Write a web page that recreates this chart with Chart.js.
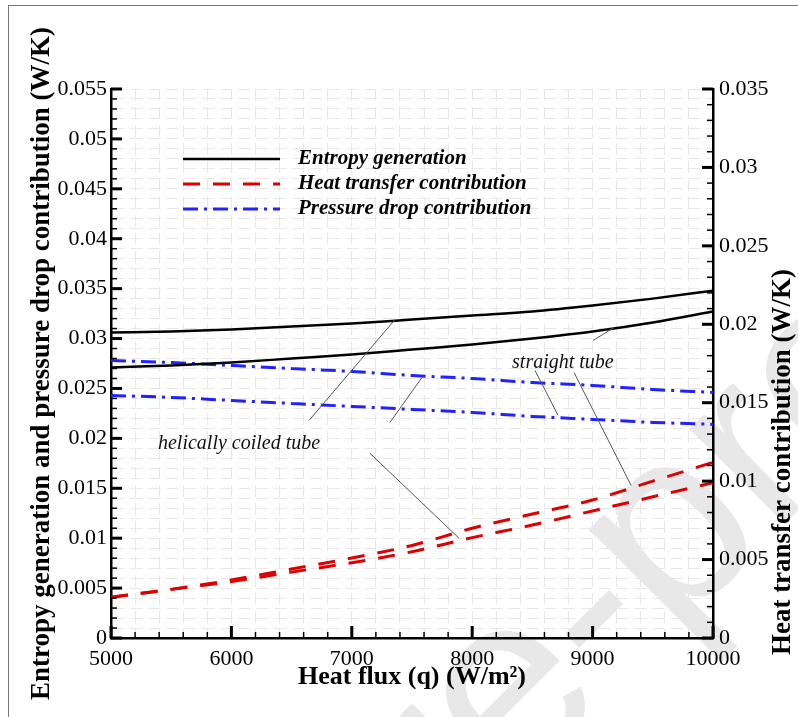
<!DOCTYPE html>
<html>
<head>
<meta charset="utf-8">
<script src="https://cdn.jsdelivr.net/npm/chart.js@4.4.1/dist/chart.umd.min.js"></script>
<style>
  html, body { margin: 0; padding: 0; background: #fff; }
  #wrap { position: relative; width: 798px; height: 717px; overflow: hidden; }
  #frame { position: absolute; left: 8px; top: 5px; width: 900px; height: 900px;
           border-left: 1px solid #777; border-top: 1px solid #777; }
  canvas { position: absolute; left: 0; top: 0; }
</style>
</head>
<body>
<div id="wrap">
  <div id="frame"></div>
  <canvas id="chart" width="798" height="717"></canvas>
</div>
<script>
// heat flux q (W/m2)
const heatFlux = [5000, 5500, 6000, 6500, 7000, 7500, 8000, 8500, 9000, 9500, 10000];

// entropy generation (left axis, W/K)
const entropyHelical  = [0.0306, 0.0307, 0.0309, 0.0312, 0.0315, 0.0319, 0.0323, 0.0327, 0.0333, 0.0340, 0.0348];
const entropyStraight = [0.0271, 0.0273, 0.0276, 0.0280, 0.0284, 0.0289, 0.0294, 0.0300, 0.0307, 0.0316, 0.0327];

// heat transfer contribution (right axis, W/K)
const heatHelical  = [0.0026, 0.0031, 0.0036, 0.0042, 0.0048, 0.0055, 0.0064, 0.0072, 0.0081, 0.0090, 0.0099];
const heatStraight = [0.0026, 0.0031, 0.0037, 0.0044, 0.0051, 0.0059, 0.0070, 0.0079, 0.0088, 0.0100, 0.0112];

// pressure drop contribution (left axis, W/K)
const pressureHelical  = [0.0278, 0.0276, 0.0273, 0.0270, 0.0267, 0.0263, 0.0260, 0.0256, 0.0253, 0.0249, 0.0246];
const pressureStraight = [0.0243, 0.0241, 0.0238, 0.0235, 0.0232, 0.0229, 0.0226, 0.0222, 0.0219, 0.0216, 0.0214];

const legendLabels = ['Entropy generation', 'Heat transfer contribution', 'Pressure drop contribution'];

// callouts, in data units (q, left-axis value)
const notes = [
  { text: 'helically coiled tube', q: 5390, v: 0.0195 },
  { text: 'straight tube', q: 8331, v: 0.0276 }
];
const leaders = [
  [6645, 0.0218, 7359, 0.0319],
  [7317, 0.0216, 7583, 0.0261],
  [7151, 0.0185, 7890, 0.0100],
  [9003, 0.0298, 9178, 0.0311],
  [8522, 0.0268, 8713, 0.0223],
  [8846, 0.0266, 9319, 0.0153]
];

const SERIF = '"Liberation Serif", "Times New Roman", serif';
const BLACK = '#000000';
const RED = '#dd0000';
const BLUE = '#2222ff';

const pts = arr => heatFlux.map((q, i) => ({ x: q, y: arr[i] }));

const lineStyle = (color, width, dash) => ({
    borderColor: color,
    backgroundColor: color,
    borderWidth: width,
    borderDash: dash,
    pointRadius: 0,
    fill: false,
    cubicInterpolationMode: 'monotone'
});

const fmt = v => String(+v.toFixed(3));

const watermark = {
    id: 'watermark',
    beforeDraw(chart) {
        const ctx = chart.ctx;
        const size = 255;
        ctx.save();
        ctx.font = `${size}px "Liberation Sans", sans-serif`;
        const pre = ctx.measureText('Journal Pr').width;
        const ew = ctx.measureText('e').width;
        ctx.translate(515, 700);
        ctx.rotate(-Math.PI / 4);
        ctx.fillStyle = 'rgba(0, 0, 0, 0.09)';
        ctx.textBaseline = 'alphabetic';
        ctx.fillText('Journal Pre-proof', -(pre + ew / 2), 0.26 * size);
        ctx.restore();
    }
};

const innerTicks = {
    id: 'innerTicks',
    afterDatasetsDraw(chart) {
        const ctx = chart.ctx;
        const { x, y, y2 } = chart.scales;
        ctx.save();
        ctx.strokeStyle = BLACK;
        x.ticks.forEach(t => {
            const major = Math.round(t.value) % 1000 === 0;
            const px = x.getPixelForValue(t.value);
            ctx.lineWidth = major ? 3 : 1.5;
            ctx.beginPath();
            ctx.moveTo(px, x.top);
            ctx.lineTo(px, x.top - (major ? 12 : 6));
            ctx.stroke();
        });
        [[y, 1], [y2, -1]].forEach(([s, dir]) => {
            const edge = dir > 0 ? s.right : s.left;
            s.ticks.forEach(t => {
                const major = Math.round(t.value * 1000) % 5 === 0;
                const py = s.getPixelForValue(t.value);
                ctx.lineWidth = major ? 3 : 1.5;
                ctx.beginPath();
                ctx.moveTo(edge, py);
                ctx.lineTo(edge + dir * (major ? 11 : 6), py);
                ctx.stroke();
            });
        });
        ctx.restore();
    }
};

const decorations = {
    id: 'decorations',
    afterDatasetsDraw(chart) {
        const ctx = chart.ctx;
        const { x, y } = chart.scales;
        const area = chart.chartArea;
        ctx.save();

        // leader lines and callout text
        ctx.strokeStyle = '#555';
        ctx.lineWidth = 1;
        leaders.forEach(([q1, v1, q2, v2]) => {
            ctx.beginPath();
            ctx.moveTo(x.getPixelForValue(q1), y.getPixelForValue(v1));
            ctx.lineTo(x.getPixelForValue(q2), y.getPixelForValue(v2));
            ctx.stroke();
        });
        ctx.fillStyle = '#111';
        ctx.font = `italic 20px ${SERIF}`;
        ctx.textAlign = 'left';
        ctx.textBaseline = 'middle';
        notes.forEach(n => ctx.fillText(n.text, x.getPixelForValue(n.q), y.getPixelForValue(n.v)));

        // legend
        const ds = chart.data.datasets;
        [0, 2, 4].forEach((di, i) => {
            const d = ds[di];
            const ly = area.top + 70 + i * 25;
            ctx.strokeStyle = d.borderColor;
            ctx.lineWidth = d.borderWidth;
            ctx.setLineDash(d.borderDash || []);
            ctx.beginPath();
            ctx.moveTo(area.left + 72, ly);
            ctx.lineTo(area.left + 169, ly);
            ctx.stroke();
            ctx.setLineDash([]);
            ctx.fillStyle = BLACK;
            ctx.font = `bold italic 21px ${SERIF}`;
            ctx.fillText(legendLabels[i], area.left + 187, ly);
        });

        // y axis titles
        ctx.font = `bold 27px ${SERIF}`;
        ctx.textAlign = 'center';
        [[42, (area.top + area.bottom) / 2, 'Entropy generation and pressure drop contribution (W/K)'],
         [783, 462, 'Heat transfer contribution (W/K)']].forEach(([tx, ty, text]) => {
            ctx.save();
            ctx.translate(tx, ty);
            ctx.rotate(-Math.PI / 2);
            ctx.fillText(text, 0, 0);
            ctx.restore();
        });
        ctx.restore();
    }
};

const tickFont = { family: SERIF, size: 22 };

new Chart(document.getElementById('chart'), {
    type: 'line',
    data: {
        datasets: [
            { label: 'Entropy generation (helically coiled tube)', data: pts(entropyHelical), yAxisID: 'y', ...lineStyle(BLACK, 2.5) },
            { label: 'Entropy generation (straight tube)', data: pts(entropyStraight), yAxisID: 'y', ...lineStyle(BLACK, 2.5) },
            { label: 'Heat transfer contribution (helically coiled tube)', data: pts(heatHelical), yAxisID: 'y2', ...lineStyle(RED, 3, [17, 13]) },
            { label: 'Heat transfer contribution (straight tube)', data: pts(heatStraight), yAxisID: 'y2', ...lineStyle(RED, 3, [17, 13]) },
            { label: 'Pressure drop contribution (helically coiled tube)', data: pts(pressureHelical), yAxisID: 'y', ...lineStyle(BLUE, 3, [15, 6, 3, 6]) },
            { label: 'Pressure drop contribution (straight tube)', data: pts(pressureStraight), yAxisID: 'y', ...lineStyle(BLUE, 3, [15, 6, 3, 6]) }
        ]
    },
    options: {
        responsive: false,
        animation: false,
        devicePixelRatio: 1,
        layout: { padding: { top: 89, left: 0, right: 0, bottom: 0 } },
        plugins: {
            legend: { display: false },
            tooltip: { enabled: false }
        },
        scales: {
            x: {
                type: 'linear',
                min: 5000,
                max: 10000,
                afterFit: s => { s.height = 79; },
                grid: { color: '#e8e8e8', drawTicks: false },
                border: { color: BLACK, width: 2.5, dash: [12, 6] },
                ticks: {
                    stepSize: 200,
                    autoSkip: false,
                    maxRotation: 0,
                    padding: 8,
                    color: BLACK,
                    font: tickFont,
                    callback: v => (Math.round(v) % 1000 === 0 ? String(v) : '')
                },
                title: {
                    display: true,
                    text: 'Heat flux (q) (W/m²)',
                    color: BLACK,
                    font: { family: SERIF, size: 26, weight: 'bold' },
                    padding: { top: 0, bottom: 24 }
                }
            },
            y: {
                position: 'left',
                min: 0,
                max: 0.055,
                afterFit: s => { s.width = 111; },
                grid: { color: '#e8e8e8', drawTicks: false },
                border: { color: BLACK, width: 2.5, dash: [12, 6] },
                ticks: {
                    stepSize: 0.001,
                    autoSkip: false,
                    padding: 4,
                    color: BLACK,
                    font: tickFont,
                    callback: v => (Math.round(v * 1000) % 5 === 0 ? fmt(v) : '')
                }
            },
            y2: {
                position: 'right',
                min: 0,
                max: 0.035,
                afterFit: s => { s.width = 85; },
                grid: { display: false, drawTicks: false },
                border: { color: BLACK, width: 2.5 },
                ticks: {
                    stepSize: 0.001,
                    autoSkip: false,
                    padding: 6,
                    color: BLACK,
                    font: tickFont,
                    callback: v => (Math.round(v * 1000) % 5 === 0 ? fmt(v) : '')
                }
            }
        }
    },
    plugins: [watermark, innerTicks, decorations]
});
</script>
</body>
</html>
